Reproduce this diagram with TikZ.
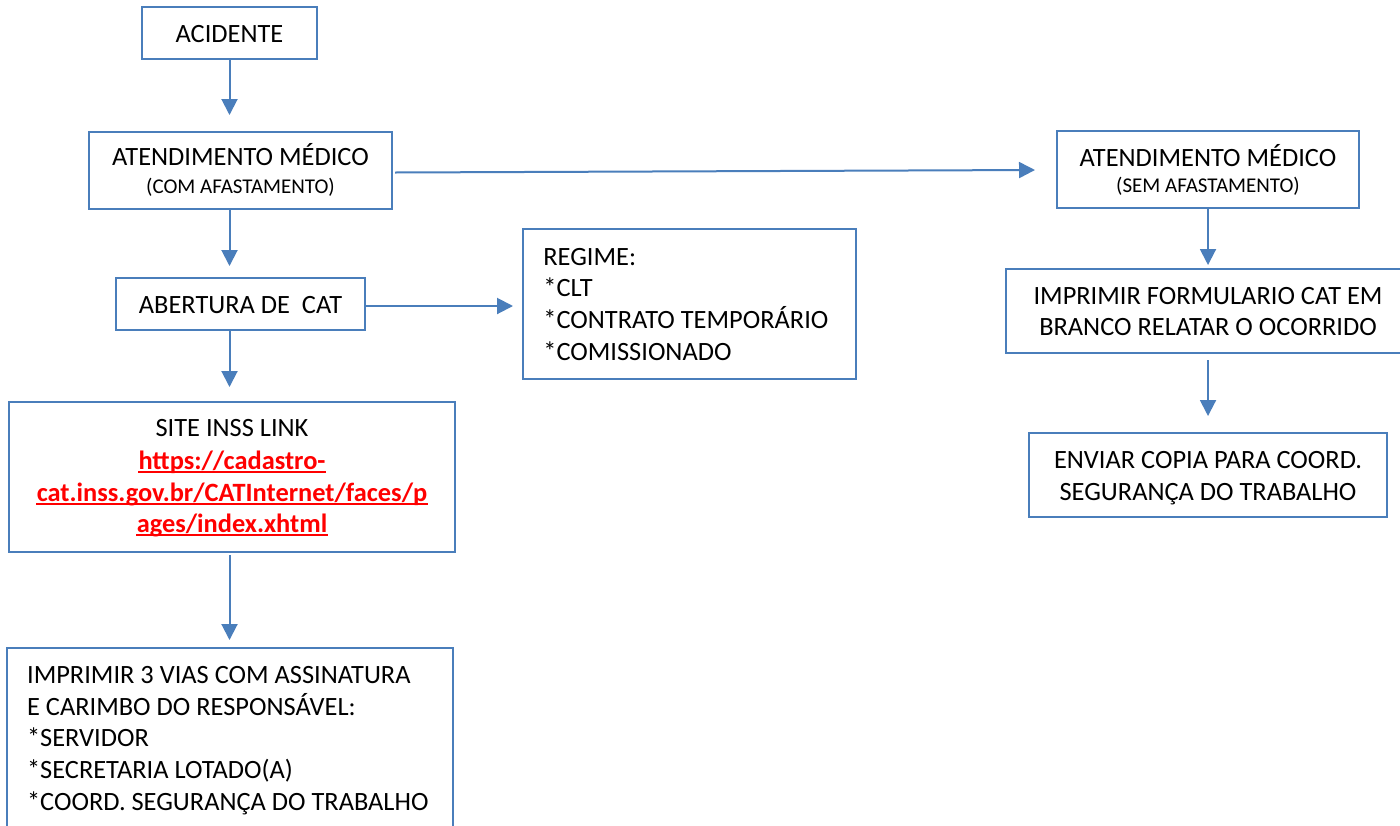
\documentclass[tikz,border=0pt]{standalone}
\usepackage{fontspec}
\setmainfont{Carlito}
\usetikzlibrary{arrows.meta,calc}
\definecolor{lineblue}{HTML}{4A7EBB}
\definecolor{linkred}{HTML}{FF0000}
\begin{document}
\begin{tikzpicture}[x=0.5pt,y=-0.5pt,
  box/.style={draw=lineblue,line width=1pt,inner sep=0pt,rectangle},
  conn/.style={draw=lineblue,line width=1pt,-{Triangle[length=8pt,width=8pt]}},
  txt/.style={inner sep=0pt,anchor=base,font=\fontsize{13.2pt}{15.8pt}\selectfont},
  small/.style={inner sep=0pt,anchor=base,font=\fontsize{10.5pt}{13pt}\selectfont},
  lnk/.style={inner sep=0pt,anchor=base,text=linkred,font=\fontsize{13.2pt}{15.8pt}\selectfont\bfseries},
  uln/.style={draw=linkred,line width=0.9pt},
  lft/.style={txt,anchor=base west}]
\useasboundingbox (0,0) rectangle (1400,825);
\fill[white] (0,0) rectangle (1400,825);
\clip (0,0) rectangle (1400,825);

% left column
\node[box,minimum width=87.5pt,minimum height=26pt] (acc) at (229.5,33) {};
\node[txt] (tacc) at (229.5,42) {ACIDENTE};

\node[box,minimum width=151.5pt,minimum height=38.5pt] (am1) at (240.5,170.5) {};
\node[txt] (tam1a) at (240.5,165.7) {ATENDIMENTO MÉDICO};
\node[small] (tam1b) at (240.5,193.3) {(COM AFASTAMENTO)};

\node[box,minimum width=124.5pt,minimum height=26pt] (ab) at (240.5,304) {};
\node[txt] (tab) at (240.5,313.3) {ABERTURA DE\ \ CAT};

\node[box,minimum width=223pt,minimum height=75pt] (site) at (232,477) {};
\node[txt] (tsite) at (232,436.7) {SITE INSS LINK};
\node[lnk] (url1) at (232,469.3) {https://cadastro-};
\node[lnk] (url2) at (232,501) {cat.inss.gov.br/CATInternet/faces/p};
\node[lnk] (url3) at (232,532.7) {ages/index.xhtml};
\foreach \u in {url1,url2,url3}
  \draw[uln] ($(\u.base west)+(0,-1.3pt)$) -- ($(\u.base east)+(0,-1.3pt)$);

\node[box,minimum width=223pt,minimum height=100pt] (imp3) at (230,748) {};
\node[lft] (ti1) at (26.7,683.3) {IMPRIMIR 3 VIAS COM ASSINATURA};
\node[lft] (ti2) at (26.7,715) {E CARIMBO DO RESPONSÁVEL:};
\node[lft] (ti3) at (26.7,746.7) {*SERVIDOR};
\node[lft] (ti4) at (26.7,778.3) {*SECRETARIA LOTADO(A)};
\node[lft] (ti5) at (26.7,810) {*COORD. SEGURANÇA DO TRABALHO};

% middle
\node[box,minimum width=166.5pt,minimum height=75pt] (reg) at (689.5,304) {};
\node[lft] (tr1) at (543,265) {REGIME:};
\node[lft] (tr2) at (543,296.7) {*CLT};
\node[lft] (tr3) at (543,328.3) {*CONTRATO TEMPORÁRIO};
\node[lft] (tr4) at (543,360) {*COMISSIONADO};

% right column
\node[box,minimum width=151pt,minimum height=38.5pt] (am2) at (1208,169.5) {};
\node[txt] (tam2a) at (1208,166) {ATENDIMENTO MÉDICO};
\node[small] (tam2b) at (1208,192.7) {(SEM AFASTAMENTO)};

\node[box,minimum width=202pt,minimum height=42pt] (impf) at (1208,311) {};
\node[txt] (tf1) at (1208,304) {IMPRIMIR FORMULARIO CAT EM};
\node[txt] (tf2) at (1208,335.7) {BRANCO RELATAR O OCORRIDO};

\node[box,minimum width=179pt,minimum height=42pt] (env) at (1208,475) {};
\node[txt] (te1) at (1208,468.3) {ENVIAR COPIA PARA COORD.};
\node[txt] (te2) at (1208,500) {SEGURANÇA DO TRABALHO};

% connectors
\draw[conn] (acc.south) -- ($(acc.south |- am1.north)+(0,8pt)$);
\draw[conn] (acc.south |- am1.south) -- ($(acc.south |- ab.north)+(0,5.5pt)$);
\draw[conn] (acc.south |- ab.south) -- ($(acc.south |- site.north)+(0,7pt)$);
\draw[conn] ($(acc.south |- site.south)+(0,-1pt)$) -- ($(acc.south |- imp3.north)+(0,3.5pt)$);
\draw[conn] ($(ab.east)+(0,-1pt)$) -- ($(reg.west |- ab.east)+(-4.5pt,-1pt)$);
\draw[conn] ($(am1.east)+(1pt,-1pt)$) -- ($(am2.west)+(-10.5pt,-0.25pt)$);
\draw[conn] (am2.south) -- ($(am2.south |- impf.north)+(0,1.5pt)$);
\draw[conn] ($(am2.south |- impf.south)+(0,-3pt)$) -- ($(am2.south |- env.north)+(0,8pt)$);
\end{tikzpicture}
\end{document}
